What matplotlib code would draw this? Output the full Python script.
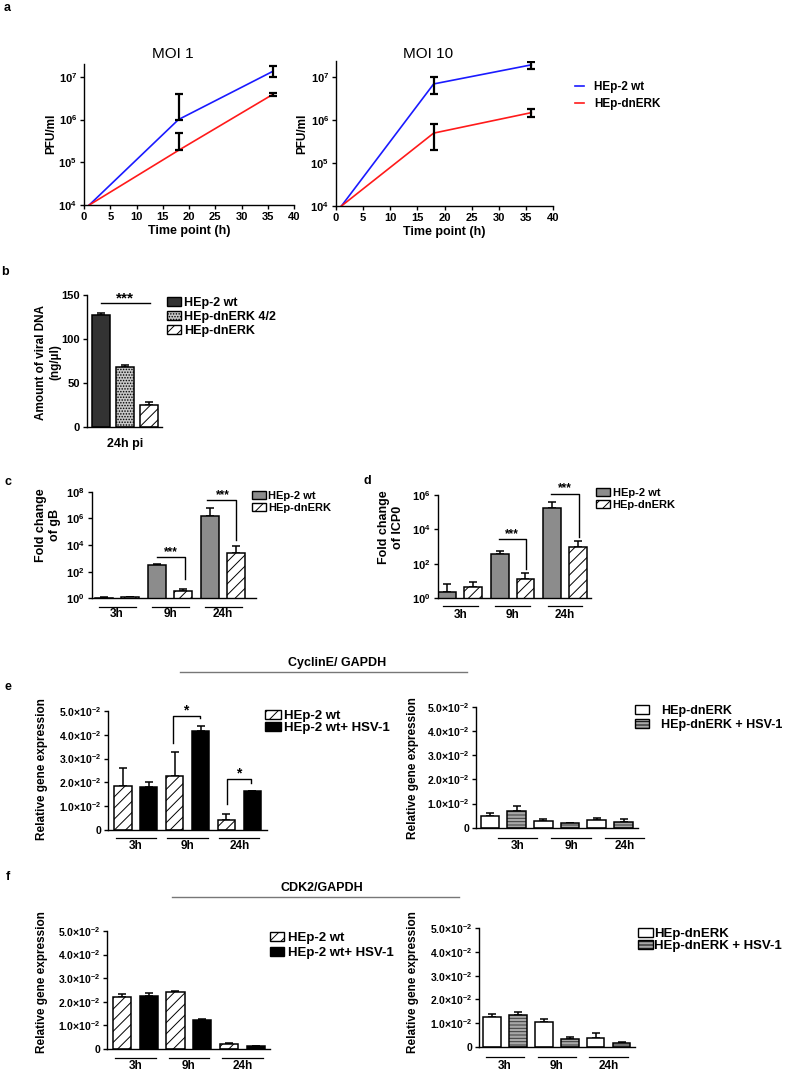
import numpy as np
import matplotlib
matplotlib.use('Agg')
import matplotlib.pyplot as plt
from matplotlib import transforms
from matplotlib.patches import Patch
from matplotlib.lines import Line2D
from matplotlib.ticker import FixedLocator, FuncFormatter, NullLocator

plt.rcParams['font.family'] = ['Liberation Sans', 'DejaVu Sans']
plt.rcParams['font.weight'] = 'bold'
plt.rcParams['axes.labelweight'] = 'bold'
plt.rcParams['mathtext.fontset'] = 'custom'
plt.rcParams['mathtext.rm'] = 'Liberation Sans:bold'
plt.rcParams['mathtext.bf'] = 'Liberation Sans:bold'
plt.rcParams['mathtext.it'] = 'Liberation Sans:bold'
plt.rcParams['hatch.linewidth'] = 0.7
plt.rcParams['axes.linewidth'] = 1.0

# ---- data ----
# a: virus titres (PFU/ml)
t_points = [1, 18, 36]
moi1_wt = [1e4, 1.0e6, 1.35e7]
moi1_wt_lo = [0, 0, 3.5e6]
moi1_wt_hi = [0, 3.0e6, 4.2e6]
moi1_dn = [1e4, 1.9e5, 3.9e6]
moi1_dn_lo = [0, 0, 0.3e6]
moi1_dn_hi = [0, 3.0e5, 0.3e6]
moi10_wt = [1e4, 7.0e6, 1.95e7]
moi10_wt_err = [0, 3.0e6, 0.38e7]
moi10_dn = [1e4, 5.0e5, 1.5e6]
moi10_dn_err = [0, 3.0e5, 0.3e6]

# b: viral DNA (ng/ul)
b_labels = ['HEp-2 wt', 'HEp-dnERK 4/2', 'HEp-dnERK']
b_vals = [127.5, 68, 25]
b_err = [2.5, 2.5, 3.5]

groups = ['3h', '9h', '24h']
# c: fold change of gB
c_wt = [1.1, 316, 1.6e6]
c_wt_err = [0.05, 64, 4.9e6]
c_dn = [1.2, 3.5, 2.4e3]
c_dn_err = [0.05, 1.3, 6.1e3]
# d: fold change of ICP0
d_wt = [2.4, 365, 1.8e5]
d_wt_err = [4.0, 195, 1.9e5]
d_dn = [4.7, 14, 960]
d_dn_err = [4.0, 14, 1040]
# e: CyclinE / GAPDH
e_wt = [0.0186, 0.0228, 0.0042]
e_wt_err = [0.0073, 0.0098, 0.0024]
e_wt_hsv = [0.0182, 0.0416, 0.0165]
e_wt_hsv_err = [0.0018, 0.0022, 0.0]
e_dn = [0.0048, 0.0028, 0.0032]
e_dn_err = [0.0012, 0.0008, 0.0009]
e_dn_hsv = [0.0069, 0.0018, 0.0022]
e_dn_hsv_err = [0.0021, 0.0002, 0.0014]
# f: CDK2 / GAPDH
f_wt = [0.0222, 0.0240, 0.0021]
f_wt_err = [0.0010, 0.0007, 0.0003]
f_wt_hsv = [0.0226, 0.0123, 0.0011]
f_wt_hsv_err = [0.0010, 0.0004, 0.0003]
f_dn = [0.0124, 0.0103, 0.0038]
f_dn_err = [0.0013, 0.0013, 0.0018]
f_dn_hsv = [0.0134, 0.0031, 0.0014]
f_dn_hsv_err = [0.0011, 0.0009, 0.0005]

rel_ticks = [0, 0.01, 0.02, 0.03, 0.04, 0.05]

W, H = 787, 1072
fig = plt.figure(figsize=(W / 100, H / 100), dpi=100)


def add_ax(x0, y0, x1, y1):
    ax = fig.add_axes([x0 / W, 1 - y1 / H, (x1 - x0) / W, (y1 - y0) / H])
    ax.spines['top'].set_visible(False)
    ax.spines['right'].set_visible(False)
    ax.tick_params(direction='out', length=3, width=1, labelsize=8, pad=2)
    return ax


def ftext(x, y, s, **kw):
    kw.setdefault('ha', 'center')
    kw.setdefault('va', 'center')
    fig.text(x / W, 1 - y / H, s, **kw)


def fline(x0, x1, y, color='#777777'):
    fig.add_artist(Line2D([x0 / W, x1 / W], [1 - y / H, 1 - y / H],
                          transform=fig.transFigure, color=color, lw=1))


def pow_fmt(v, p):
    return r'$\mathbf{10^{%d}}$' % round(np.log10(v))


def rel_fmt(v, p):
    if v == 0:
        return '0'
    return r'$\mathbf{%.1f{\times}10^{-2}}$' % (v * 100)


def bars(ax, x, vals, errs, width, striped=False, **style):
    ax.errorbar(x, vals, yerr=[np.zeros(len(vals)), errs], fmt='none', ecolor='black',
                elinewidth=1.1, capsize=3.2, capthick=1.1, zorder=1)
    if striped:
        ax.bar(x, vals, width, facecolor='#a8a8a8', edgecolor='#3a3a3a', hatch='-----',
               linewidth=0, zorder=2)
        ax.bar(x, vals, width, fill=False, edgecolor='black', linewidth=1.1, zorder=3)
    else:
        ax.bar(x, vals, width, edgecolor='black', linewidth=1.1, zorder=2, **style)


def group_axis(ax, labels, half, line_px, text_px, shift=0.0):
    trans = transforms.blended_transform_factory(ax.transData, ax.transAxes)
    off1 = transforms.ScaledTranslation(0, -line_px / 100, fig.dpi_scale_trans)
    off2 = transforms.ScaledTranslation(0, -text_px / 100, fig.dpi_scale_trans)
    for i, lab in enumerate(labels):
        c = i + shift
        ax.plot([c - half, c + half], [0, 0], transform=trans + off1, color='black',
                lw=0.9, clip_on=False)
        ax.text(c, 0, lab, transform=trans + off2, ha='center', va='center',
                fontsize=8.5, fontweight='bold')
    ax.set_xticks([])


def legend_at(ax, handles, labels, x, ymid, size, hl, hh, pad, spacing):
    ax.legend(handles, labels, loc='center left', bbox_to_anchor=(x / W, 1 - ymid / H),
              bbox_transform=fig.transFigure, frameon=False, borderpad=0, borderaxespad=0,
              handlelength=hl, handleheight=hh, handletextpad=pad, labelspacing=spacing,
              prop={'weight': 'bold', 'size': size})


def ylab(x, y, s, size=8):
    ftext(x, y, s, rotation=90, fontsize=size, fontweight='bold', multialignment='center')


hatched = dict(facecolor='white', hatch='///')
grey = dict(facecolor='#8c8c8c')
black = dict(facecolor='black')
plain = dict(facecolor='white')

# ---- a ----
ftext(7, 8, 'a', fontsize=9, fontweight='bold')
panels_a = [
    ((84, 64, 294, 205), 10 ** 7.30, 'MOI 1', 173, 51,
     moi1_wt, [moi1_wt_lo, moi1_wt_hi], moi1_dn, [moi1_dn_lo, moi1_dn_hi]),
    ((336, 61, 553, 206), 10 ** 7.38, 'MOI 10', 428, 302,
     moi10_wt, [moi10_wt_err, moi10_wt_err], moi10_dn, [moi10_dn_err, moi10_dn_err]),
]
for box, ytop, title, tx, lx, wt, wt_e, dn, dn_e in panels_a:
    ax = add_ax(*box)
    ax.set_yscale('log')
    ax.plot(t_points, wt, color='#1a1aff', lw=1.2)
    ax.plot(t_points, dn, color='#ff1a1a', lw=1.2)
    for v, e in ((wt, wt_e), (dn, dn_e)):
        ax.errorbar(t_points[1:], v[1:], yerr=[e[0][1:], e[1][1:]], fmt='none',
                    ecolor='black', elinewidth=1.6, capsize=3, capthick=1.6, zorder=3)
    ax.set_xlim(0, 40)
    ax.set_ylim(1e4, ytop)
    ax.set_xticks(range(0, 41, 5))
    ax.yaxis.set_major_locator(FixedLocator([1e4, 1e5, 1e6, 1e7]))
    ax.yaxis.set_major_formatter(FuncFormatter(pow_fmt))
    ax.yaxis.set_minor_locator(NullLocator())
    ax.set_xlabel('Time point (h)', fontsize=9, labelpad=2)
    ftext(tx, 54, title, fontsize=11, fontweight='normal')
    ylab(lx, 134, 'PFU/ml', 8.5)
legend_at(ax, [Line2D([], [], color='#1a1aff', lw=1.2), Line2D([], [], color='#ff1a1a', lw=1.2)],
          ['HEp-2 wt', 'HEp-dnERK'], 575, 95.5, 8.5, 0.8, 0.7, 0.8, 0.4)

# ---- b ----
ftext(5, 272, 'b', fontsize=9, fontweight='bold')
ax = add_ax(87, 295, 162, 426.7)
b_styles = [dict(facecolor='#333333'), dict(facecolor='#c8c8c8', hatch='......'), hatched]
for i in range(3):
    bars(ax, [i], [b_vals[i]], [b_err[i]], 0.75, **b_styles[i])
ax.set_xlim(-0.58, 2.54)
ax.set_ylim(0, 150)
ax.set_yticks([0, 50, 100, 150])
ax.set_xticks([1])
ax.set_xticklabels(['24h pi'], fontsize=9)
ax.tick_params(axis='x', length=0, pad=8)
ax.plot([0, 2.04], [141, 141], color='black', lw=1, clip_on=False)
ax.text(1, 146.5, '***', ha='center', va='center', fontsize=11, fontweight='bold')
ylab(48, 362, 'Amount of viral DNA\n(ng/\u00b5l)', 8.5)
legend_at(ax, [Patch(edgecolor='black', lw=1, **s) for s in b_styles], b_labels,
          167, 317, 9, 1.1, 0.68, 0.25, 0.15)

# ---- c ----
ftext(8, 482, 'c', fontsize=9, fontweight='bold')
ax = add_ax(91.7, 491.7, 256, 598.3)
ax.set_yscale('log')
x = np.arange(3)
bars(ax, x - 0.245, c_wt, c_wt_err, 0.34, **grey)
bars(ax, x + 0.245, c_dn, c_dn_err, 0.34, **hatched)
ax.plot([0.76, 1.28, 1.28], [10 ** 3.08, 10 ** 3.08, 10 ** 1.43], color='black', lw=1, clip_on=False)
ax.text(1.02, 10 ** 3.5, '***', ha='center', va='center', fontsize=8.5)
ax.plot([1.69, 2.25, 2.25], [10 ** 7.34, 10 ** 7.34, 10 ** 4.38], color='black', lw=1, clip_on=False)
ax.text(2.0, 10 ** 7.76, '***', ha='center', va='center', fontsize=8.5)
ax.set_xlim(-0.48, 2.62)
ax.set_ylim(1, 1e8)
ax.yaxis.set_major_locator(FixedLocator([1, 1e2, 1e4, 1e6, 1e8]))
ax.yaxis.set_major_formatter(FuncFormatter(pow_fmt))
ax.yaxis.set_minor_locator(NullLocator())
group_axis(ax, groups, 0.35, 8.4, 15.7)
ylab(48, 525, 'Fold change\nof gB', 9)
legend_at(ax, [Patch(edgecolor='black', **grey), Patch(edgecolor='black', **hatched)],
          ['HEp-2 wt', 'HEp-dnERK'], 252, 502, 8, 1.25, 0.7, 0.2, 0.2)

# ---- d ----
ftext(367, 481, 'd', fontsize=9, fontweight='bold')
ax = add_ax(437.7, 495, 590.7, 598.3)
ax.set_yscale('log')
bars(ax, x - 0.245, d_wt, d_wt_err, 0.34, **grey)
bars(ax, x + 0.245, d_dn, d_dn_err, 0.34, **hatched)
ax.plot([0.74, 1.25, 1.25], [10 ** 3.47, 10 ** 3.47, 10 ** 1.68], color='black', lw=1, clip_on=False)
ax.text(0.99, 10 ** 3.75, '***', ha='center', va='center', fontsize=8.5)
ax.plot([1.73, 2.26, 2.26], [10 ** 6.07, 10 ** 6.07, 10 ** 3.56], color='black', lw=1, clip_on=False)
ax.text(2.0, 10 ** 6.42, '***', ha='center', va='center', fontsize=8.5)
ax.set_xlim(-0.43, 2.49)
ax.set_ylim(1, 1e6)
ax.yaxis.set_major_locator(FixedLocator([1, 1e2, 1e4, 1e6]))
ax.yaxis.set_major_formatter(FuncFormatter(pow_fmt))
ax.yaxis.set_minor_locator(NullLocator())
group_axis(ax, groups, 0.33, 7.7, 16.7)
ylab(391, 527, 'Fold change\nof ICP0', 9)
legend_at(ax, [Patch(edgecolor='black', **grey), Patch(edgecolor='black', **hatched)],
          ['HEp-2 wt', 'HEp-dnERK'], 596, 499, 8, 1.25, 0.7, 0.25, 0.2)


# ---- e / f ----
def rel_axis(ax, xl):
    ax.set_xlim(*xl)
    ax.set_ylim(0, 0.05)
    ax.yaxis.set_major_locator(FixedLocator(rel_ticks))
    ax.yaxis.set_major_formatter(FuncFormatter(rel_fmt))
    ax.tick_params(axis='y', labelsize=7.5)


ftext(8, 687, 'e', fontsize=9, fontweight='bold')
ftext(337, 663, 'CyclinE/ GAPDH', fontsize=9, fontweight='bold')
fline(180, 467, 671.7)

ax = add_ax(108, 711, 266.7, 830)
bars(ax, x - 0.25, e_wt, e_wt_err, 0.33, **hatched)
bars(ax, x + 0.25, e_wt_hsv, e_wt_hsv_err, 0.33, **black)
ax.plot([0.72, 0.72, 1.24, 1.24], [0.0364, 0.048, 0.048, 0.047], color='black', lw=1, clip_on=False)
ax.text(0.97, 0.0503, '*', ha='center', va='center', fontsize=10)
ax.plot([1.76, 1.76, 2.22, 2.22], [0.011, 0.0213, 0.0213, 0.0197], color='black', lw=1, clip_on=False)
ax.text(1.98, 0.0237, '*', ha='center', va='center', fontsize=10)
rel_axis(ax, (-0.54, 2.53))
group_axis(ax, groups, 0.39, 8.3, 16)
ylab(42, 769, 'Relative gene expression', 8.5)
legend_at(ax, [Patch(edgecolor='black', **hatched), Patch(edgecolor='black', **black)],
          ['HEp-2 wt', 'HEp-2 wt+ HSV-1'], 265, 722, 9.5, 1.2, 0.7, 0.24, 0.02)

ax = add_ax(476, 706.7, 638, 827.7)
bars(ax, x - 0.25, e_dn, e_dn_err, 0.35, **plain)
bars(ax, x + 0.25, e_dn_hsv, e_dn_hsv_err, 0.35, striped=True)
rel_axis(ax, (-0.51, 2.52))
group_axis(ax, groups, 0.37, 10.3, 18.3, shift=0.27)
ylab(413, 768, 'Relative gene expression', 8.5)
legend_at(ax, [Patch(edgecolor='black', **plain),
               Patch(facecolor='#a8a8a8', edgecolor='black', hatch='-----')],
          ['HEp-dnERK', 'HEp-dnERK + HSV-1'], 635, 718, 9, 1.1, 0.7, 0.95, 0.15)

ftext(8, 877, 'f', fontsize=9, fontweight='bold')
ftext(322, 888, 'CDK2/GAPDH', fontsize=9, fontweight='bold')
fline(172, 459, 896.7)

ax = add_ax(107.3, 931, 270, 1049)
bars(ax, x - 0.25, f_wt, f_wt_err, 0.34, **hatched)
bars(ax, x + 0.25, f_wt_hsv, f_wt_hsv_err, 0.34, **black)
rel_axis(ax, (-0.52, 2.51))
group_axis(ax, groups, 0.38, 8.7, 16.7)
ylab(42, 982, 'Relative gene expression', 8.5)
legend_at(ax, [Patch(edgecolor='black', **hatched), Patch(edgecolor='black', **black)],
          ['HEp-2 wt', 'HEp-2 wt+ HSV-1'], 270, 945.3, 9.5, 1.04, 0.7, 0.3, 0.22)

ax = add_ax(479, 928.3, 635, 1046.7)
bars(ax, x - 0.25, f_dn, f_dn_err, 0.34, **plain)
bars(ax, x + 0.25, f_dn_hsv, f_dn_hsv_err, 0.34, striped=True)
rel_axis(ax, (-0.5, 2.51))
group_axis(ax, groups, 0.37, 10, 19)
ylab(413, 982, 'Relative gene expression', 8.5)
legend_at(ax, [Patch(edgecolor='black', **plain),
               Patch(facecolor='#a8a8a8', edgecolor='black', hatch='-----')],
          ['HEp-dnERK', 'HEp-dnERK + HSV-1'], 638, 940, 9.5, 1.12, 0.7, 0.08, 0.0)

fig.savefig('out.png', dpi=100)
